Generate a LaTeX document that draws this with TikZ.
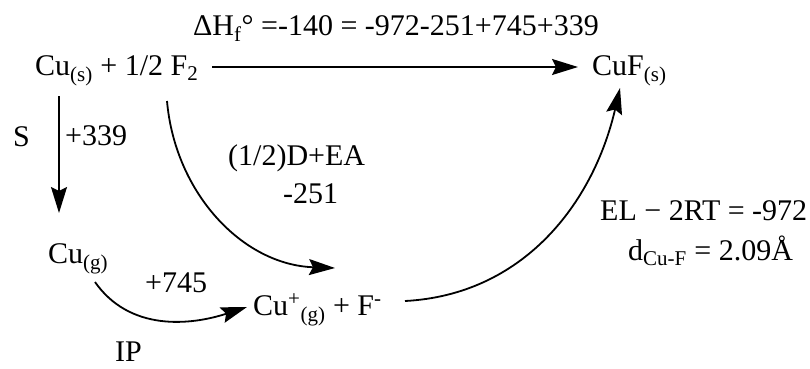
\documentclass[tikz,border=0pt]{standalone}
\usepackage{fontspec}
\setmainfont{Liberation Serif}
\usetikzlibrary{arrows.meta}
\tikzset{
    chem/.style={inner sep=0pt, anchor=base west, font=\fontsize{30}{34}\selectfont},
    lbl/.style={inner sep=0pt, anchor=base west, font=\fontsize{30}{34}\selectfont},
    arr/.style={line width=1.8pt, -{Stealth[length=26pt,width=16pt,inset=4pt]}}
}
\begin{document}
\begin{tikzpicture}[x=1pt,y=-1pt]
    \useasboundingbox (0,0) rectangle (810,368);
    % species
    \node[chem] (cus) at (35,75) {Cu\textsubscript{(s)} + 1/2 F\textsubscript{2}};
    \node[chem] (cufs) at (592,75) {CuF\textsubscript{(s)}};
    \node[chem] (cug) at (48,263) {Cu\textsubscript{(g)}};
    \node[chem] (cupf) at (253,315) {Cu\textsuperscript{+}\textsubscript{(g)} + F\textsuperscript{-}};
    % labels
    \node[lbl] (dh) at (193,35)
        {ΔH\textsubscript{f}\textdegree{} =-140 = -972-251+745+339};
    \node[lbl] (s) at (13,146) {S};
    \node[lbl] (sub) at (65,145) {+339};
    \node[lbl] (dea) at (228,165) {(1/2)D+EA};
    \node[lbl] (dea2) at (283,203) {-251};
    \node[lbl] (ip2) at (145,292) {+745};
    \node[lbl] (ip) at (115,361) {IP};
    \node[lbl] (el) at (600,220) {EL − 2RT = -972};
    \node[lbl] (dcuf) at (628,260) {d\textsubscript{Cu-F} = 2.09Å};
    % paths
    \draw[arr] ([xshift=177pt,yshift=8pt]cus.base west)
        -- ([xshift=-14pt,yshift=8pt]cufs.base west);
    \draw[arr] ([xshift=24pt,yshift=-21pt]cus.base west)
        -- ([xshift=11pt,yshift=50pt]cug.base west);
    \draw[arr] ([xshift=132pt,yshift=-26pt]cus.base west) to[out=-85,in=178]
        ([xshift=82pt,yshift=47pt]cupf.base west);
    \draw[arr] ([xshift=47pt,yshift=-19pt]cug.base west) to[out=-55,in=198]
        ([xshift=-6pt,yshift=8pt]cupf.base west);
    \draw[arr] ([xshift=152pt,yshift=14pt]cupf.base west) to[out=3,in=-103]
        ([xshift=28pt,yshift=-13pt]cufs.base west);
\end{tikzpicture}
\end{document}
